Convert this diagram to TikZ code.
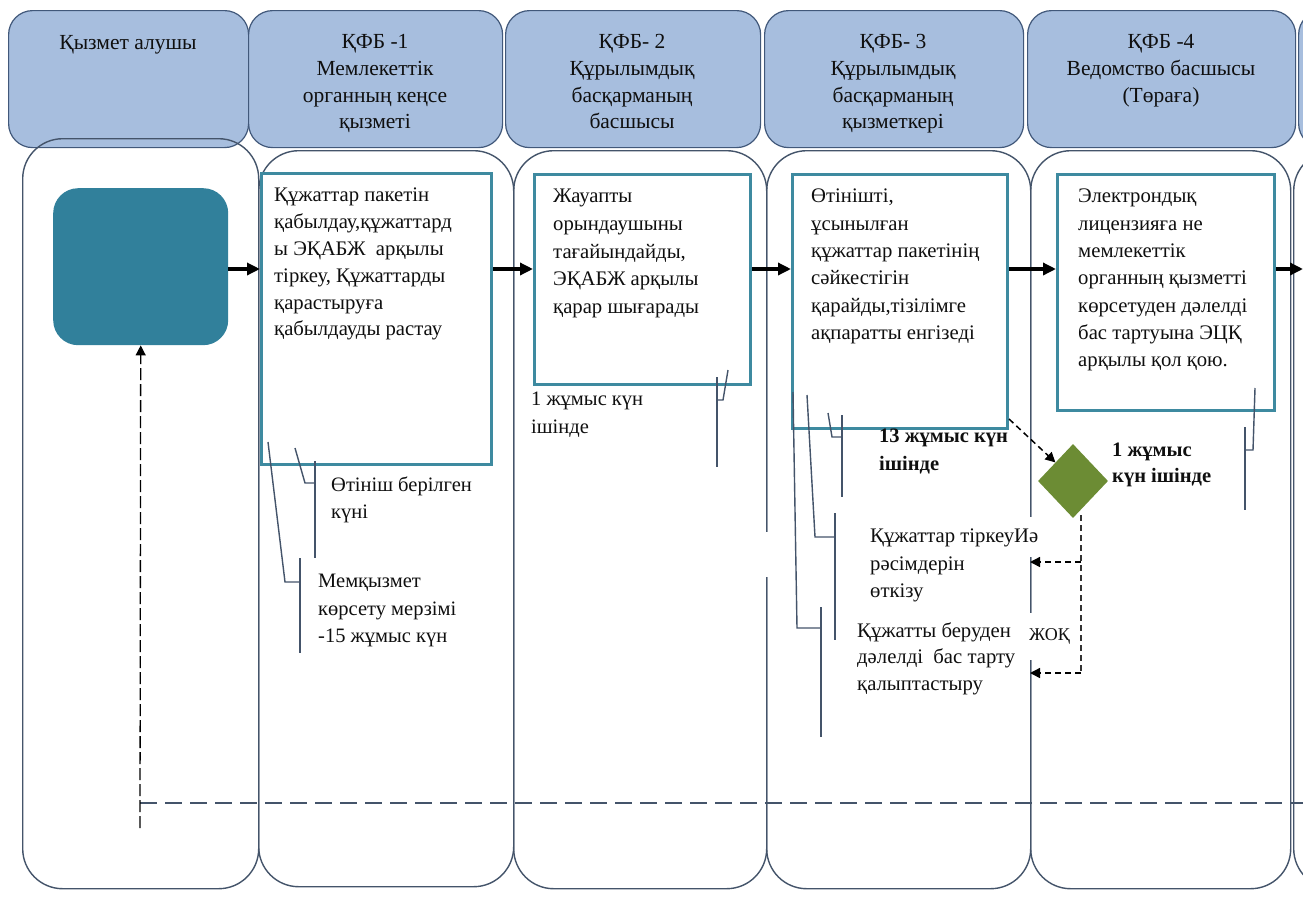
\documentclass[tikz,border=0pt]{standalone}
\usepackage{fontspec}
\setmainfont{Liberation Serif}
\usetikzlibrary{shapes.geometric,arrows.meta}
\definecolor{hdrfill}{RGB}{167,190,222}
\definecolor{hdrdraw}{RGB}{65,88,122}
\definecolor{lanedraw}{RGB}{68,84,106}
\definecolor{startfill}{RGB}{49,128,155}
\definecolor{boxdraw}{RGB}{62,138,160}
\definecolor{diafill}{RGB}{108,140,52}
\definecolor{txt}{RGB}{15,15,15}
\begin{document}
\begin{tikzpicture}[x=1pt,y=-1pt,
  hdr/.style={draw=hdrdraw, fill=hdrfill, line width=1.2pt, rounded corners=24pt, anchor=north west, inner sep=0pt},
  lane/.style={draw=lanedraw, line width=1.4pt, rounded corners=40pt, anchor=north west, inner sep=0pt},
  hdrtxt/.style={font=\fontsize{21.5}{26.6}\selectfont, align=center, anchor=north, inner sep=0pt, text=txt},
  startbox/.style={fill=startfill, rounded corners=25pt, anchor=north west, inner sep=0pt},
  procbox/.style={draw=boxdraw, line width=3pt, fill=white, anchor=north west, inner sep=0pt},
  boxtxt/.style={font=\fontsize{20.7}{27.3}\selectfont, align=left, anchor=north west, inner sep=0pt, text=txt},
  notebold/.style={font=\fontsize{20.5}{27.5}\selectfont\bfseries, align=left, anchor=north west, inner sep=0pt, text=txt},
  decision/.style={diamond, fill=diafill, inner sep=0pt, minimum width=70pt, minimum height=74pt, aspect=0.95},
  arr/.style={line width=3.4pt, -{Triangle[length=13pt,width=12pt]}},
  darr/.style={line width=1.5pt, dash pattern=on 6pt off 4pt, -{Triangle[length=10pt,width=10pt]}},
  callout/.style={draw=lanedraw, line width=1.4pt}
]
\useasboundingbox (0,0) rectangle (1303,897);
\fill[white] (0,0) rectangle (1303,897);

% headers
\node[hdr, minimum width=240pt, minimum height=137pt] (h0) at (8,10) {};
\node[hdr, minimum width=254pt, minimum height=137pt] (h1) at (248,10) {};
\node[hdr, minimum width=255pt, minimum height=137pt] (h2) at (505,10) {};
\node[hdr, minimum width=259pt, minimum height=137pt] (h3) at (764,10) {};
\node[hdr, minimum width=268pt, minimum height=137pt] (h4) at (1027,10) {};
\node[hdr, minimum width=120pt, minimum height=137pt] (h5) at (1298,10) {};

\node[hdrtxt] (t0) at (128,35) {Қызмет алушы};
\node[hdrtxt] (t1) at (375,34.5) {ҚФБ -1\\Мемлекеттік\\органның кеңсе\\қызметі};
\node[hdrtxt] (t2) at (632,34.5) {ҚФБ- 2\\Құрылымдық\\басқарманың\\басшысы};
\node[hdrtxt] (t3) at (893,34.5) {ҚФБ- 3\\Құрылымдық\\басқарманың\\қызметкері};
\node[hdrtxt] (t4) at (1161,34.5) {ҚФБ -4\\Ведомство басшысы\\(Төраға)};

% lanes
\node[lane, minimum width=236pt, minimum height=750pt] (l0) at (22,138) {};
\node[lane, minimum width=255pt, minimum height=736pt] (l1) at (258,150) {};
\node[lane, minimum width=253pt, minimum height=738pt] (l2) at (513,150) {};
\node[lane, minimum width=264pt, minimum height=738pt] (l3) at (766,150) {};
\node[lane, minimum width=260pt, minimum height=738pt] (l4) at (1030,150) {};
\node[lane, minimum width=100pt, minimum height=738pt] (l5) at (1293,150) {};
\fill[white] (762,532) rectangle (770,577);
\fill[white] (1026,517) rectangle (1034,557);

% start node
\node[startbox, minimum width=175pt, minimum height=157pt] (s) at (53,188) {};

% process boxes
\node[procbox, minimum width=230pt, minimum height=291pt] (b1) at (260,172) {};
\node[procbox, minimum width=216pt, minimum height=210pt] (b2) at (533,173) {};
\node[procbox, minimum width=215pt, minimum height=254pt] (b3) at (791,173) {};
\node[procbox, minimum width=217pt, minimum height=236pt] (b4) at (1056,173) {};

\node[boxtxt, font=\fontsize{20.7}{26.8}\selectfont] (bt1) at (274,188) {Құжаттар пакетін\\қабылдау,құжаттард\\ы ЭҚАБЖ\ \ арқылы\\тіркеу, Құжаттарды\\қарастыруға\\қабылдауды растау};
\node[boxtxt, font=\fontsize{20.7}{27.7}\selectfont] (bt2) at (553,189) {Жауапты\\орындаушыны\\тағайындайды,\\ЭҚАБЖ арқылы\\қарар шығарады};
\node[boxtxt] (bt3) at (811,189) {Өтінішті,\\ұсынылған\\құжаттар пакетінің\\сәйкестігін\\қарайды,тізілімге\\ақпаратты енгізеді};
\node[boxtxt] (bt4) at (1078,189) {Электрондық\\лицензияға не\\мемлекеттік\\органның қызметті\\көрсетуден дәлелді\\бас тартуына ЭЦҚ\\арқылы қол қою.};

% decision
\node[decision] (d) at (1073,481) {};

% main arrows
\coordinate (outR) at (1303,269);
\draw[arr] (s.east |- 0,269) -- (b1.west |- 0,269);
\draw[arr] (b1.east |- 0,269) -- (b2.west |- 0,269);
\draw[arr] (b2.east |- 0,269) -- (b3.west |- 0,269);
\draw[arr] (b3.east |- 0,269) -- (b4.west |- 0,269);
\draw[arr] (b4.east |- 0,269) -- (outR);

% dashed to decision
\draw[darr] ([yshift=11pt]b3.south east) -- (d.north west);

% decision outcomes
\coordinate (dtop) at (1081,515);
\coordinate (dj1) at (1081,562);
\coordinate (dj2) at (1081,673);
\coordinate (e1) at (1030,562);
\coordinate (e2) at (1030,673);
\draw[line width=1.5pt, dash pattern=on 6pt off 4pt, draw=black!80] (dtop) -- (dj2);
\draw[darr] (dj1) -- (e1);
\draw[darr] (dj2) -- (e2);
\node[font=\fontsize{18}{22}\selectfont, fill=white, inner xsep=2pt, inner ysep=0pt, minimum height=47pt, anchor=west, text=txt] (jok) at (1027,636) {ЖОҚ};

% return dashed line
\coordinate (rb) at (140,828);
\coordinate (rc) at (140,803);
\coordinate (rr) at (1303,803);
\draw[draw=lanedraw, line width=2.4pt, dash pattern=on 17pt off 8pt] (rc) -- (rr);
\draw[line width=1.3pt, dash pattern=on 12pt off 4pt, -{Triangle[length=10pt,width=10pt]}] (rb) -- (s.south);

% annotations
\node[boxtxt, font=\fontsize{20.5}{28}\selectfont] (n1) at (531,392) {1 жұмыс күн\\ішінде};
\node[boxtxt, font=\fontsize{20.5}{27}\selectfont] (n2) at (331,477) {Өтініш берілген\\күні};
\node[boxtxt, font=\fontsize{20.5}{27.5}\selectfont] (n3) at (318,574) {Мемқызмет\\көрсету мерзімі\\-15 жұмыс күн};
\node[notebold] (n4) at (879,429) {13 жұмыс күн\\ішінде};
\node[boxtxt, font=\fontsize{20.7}{27.5}\selectfont] (n5) at (870,529) {Құжаттар тіркеуИә\\рәсімдерін\\өткізу};
\node[boxtxt, font=\fontsize{20.7}{26.5}\selectfont] (n6) at (857,622) {Құжатты беруден\\дәлелді\ \ бас тарту\\қалыптастыру};
\node[notebold, font=\fontsize{20.5}{25.5}\selectfont\bfseries] (n7) at (1112,443) {1 жұмыс\\күн ішінде};

% callout leaders and bars
\draw[callout] (295,448) -- (305,483) -- (315,483);
\draw[callout] (315,461) -- (315,558);
\draw[callout] (268,442) -- (285,582) -- (300,582);
\draw[callout] (300,558) -- (300,653);
\draw[callout] (728,370) -- (723,400) -- (717,400);
\draw[callout] (717,377) -- (717,467);
\draw[callout] (828,413) -- (832,437) -- (842,437);
\draw[callout] (842,415) -- (842,497);
\draw[callout] (807,395) -- (815,537) -- (835,537);
\draw[callout] (835,513) -- (835,640);
\draw[callout] (793,392) -- (797,628) -- (821,628);
\draw[callout] (821,607) -- (821,737);
\draw[callout] (1255,388) -- (1253,450) -- (1245,450);
\draw[callout] (1245,427) -- (1245,510);
\end{tikzpicture}
\end{document}
